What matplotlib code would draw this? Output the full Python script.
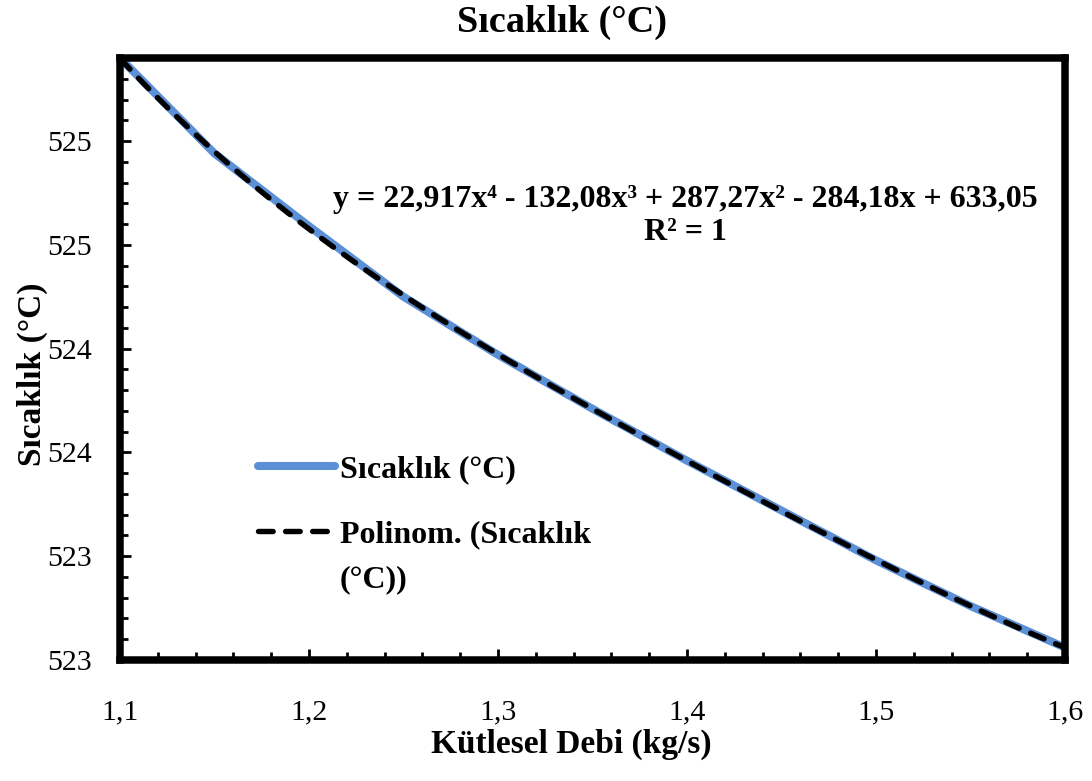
import matplotlib
matplotlib.use('Agg')

import matplotlib.pyplot as plt
import numpy as np
from matplotlib.ticker import MultipleLocator, FixedLocator, FuncFormatter

plt.rcParams['font.family'] = ['Liberation Serif', 'DejaVu Serif']

# ==========================================
# 数据
# ==========================================
debi = [1.10, 1.15, 1.20, 1.25, 1.30, 1.35, 1.40, 1.45, 1.50, 1.55, 1.60]
sicaklik = [525.80, 525.34, 524.99, 524.65, 524.37, 524.11, 523.86, 523.62, 523.38, 523.16, 522.96]

title_txt = 'Sıcaklık (°C)'
xlabel_txt = 'Kütlesel Debi (kg/s)'
ylabel_txt = 'Sıcaklık (°C)'
seri_label = 'Sıcaklık (°C)'
trend_label = 'Polinom. (Sıcaklık'
trend_label2 = '(°C))'
denklem = 'y = 22,917x⁴ - 132,08x³ + 287,27x² - 284,18x + 633,05\nR² = 1'

# 4. dereceden polinom trend çizgisi (Excel gibi)
katsayi = np.polyfit(debi, sicaklik, 4)
xs = np.linspace(min(debi), max(debi), 300)
ys = np.polyval(katsayi, xs)

# ==========================================
# 绘图
# ==========================================
fig = plt.figure(figsize=(10.92, 7.81), dpi=100)
ax = fig.add_axes([120 / 1092, 1 - 660 / 781, 945 / 1092, 602 / 781])

mavi = '#5B8FD6'
ax.plot(debi, sicaklik, color=mavi, lw=5.8, solid_capstyle='round',
        solid_joinstyle='round', label=seri_label, zorder=2)
ax.plot(xs, ys, color='black', lw=3.9, linestyle=(0, (2.7, 2.3)),
        dash_capstyle='round', label=trend_label, zorder=3)

ax.set_xlim(1.1, 1.6)
ax.set_ylim(522.9, 525.8)

ax.xaxis.set_major_locator(MultipleLocator(0.1))
ax.xaxis.set_minor_locator(MultipleLocator(0.02))
ax.yaxis.set_major_locator(FixedLocator([522.9, 523.4, 523.9, 524.4, 524.9, 525.4]))
ax.yaxis.set_minor_locator(MultipleLocator(0.1))

ax.xaxis.set_major_formatter(FuncFormatter(lambda v, p: f'{v:.1f}'.replace('.', ',')))
ax.yaxis.set_major_formatter(FuncFormatter(lambda v, p: f'{v:.0f}'))

ax.tick_params(which='both', direction='in', width=2, labelsize=21.5, colors='black')
ax.tick_params(which='major', length=8)
ax.tick_params(which='minor', length=6)
ax.tick_params(axis='y', which='major', pad=20)
ax.tick_params(axis='x', which='major', pad=28)

for sp in ax.spines.values():
    sp.set_linewidth(5.4)
    sp.set_color('black')
    sp.set_capstyle('projecting')

# 标题与坐标轴标签
fig.text(562 / 1092, 1 - 22 / 781, title_txt, ha='center', va='center',
         fontsize=27.5, fontweight='bold')
fig.text(571 / 1092, 1 - 744 / 781, xlabel_txt, ha='center', va='center',
         fontsize=24, fontweight='bold')
fig.text(32 / 1092, 1 - 374 / 781, ylabel_txt, ha='center', va='center',
         rotation=90, fontsize=24, fontweight='bold')

# 趋势线公式
ax.text((685 - 120) / 945, (660 - 216) / 602, denklem, transform=ax.transAxes,
        ha='center', va='center', multialignment='center', fontsize=23,
        fontweight='bold', linespacing=1.15)

# 图例
leg = ax.legend(loc='upper left', bbox_to_anchor=((258 - 120) / 945, (660 - 455) / 602),
                frameon=False, handlelength=2.4, handletextpad=0.17,
                labelspacing=1.1, borderpad=0, borderaxespad=0,
                prop={'weight': 'bold', 'size': 23})

fig.canvas.draw()
bb = leg.get_texts()[1].get_window_extent()
fig.text(bb.x0, bb.y0 - 45, trend_label2, transform=None, ha='left', va='bottom',
         fontsize=23, fontweight='bold')

fig.savefig('out.png', dpi=100)
